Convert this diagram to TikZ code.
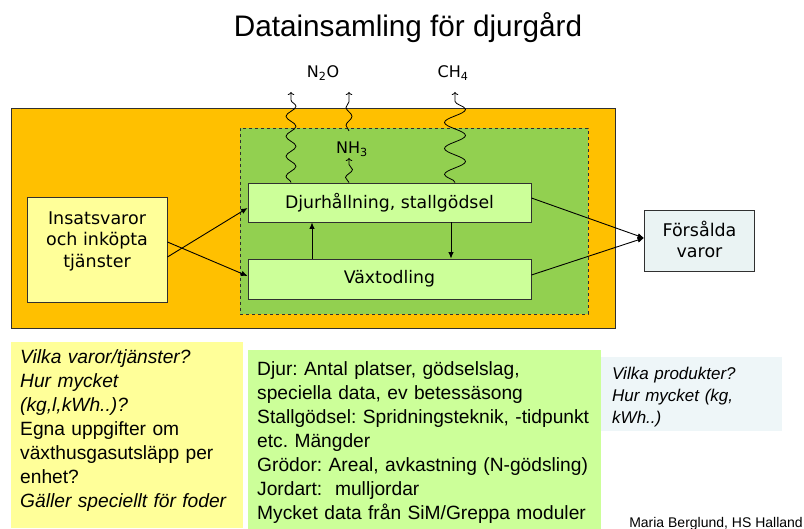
\documentclass[tikz,border=0pt]{standalone}
\usepackage{fontspec}
\setmainfont{Liberation Sans}
\newfontfamily\dvsans{DejaVu Sans}
\usetikzlibrary{arrows.meta,decorations.pathmorphing}
\frenchspacing

\definecolor{farmorange}{HTML}{FFC000}
\definecolor{farmgreen}{HTML}{92D050}
\definecolor{palegreen}{HTML}{CCFF99}
\definecolor{paleyellow}{HTML}{FFFF99}
\definecolor{paleblue}{HTML}{EAF3F3}
\definecolor{noteblue}{HTML}{EEF6F8}
\definecolor{edgegray}{HTML}{303030}

\tikzset{
  areabox/.style={draw=edgegray, line width=0.9pt, inner sep=0pt},
  procbox/.style={draw=edgegray, line width=0.9pt, fill=palegreen, inner sep=0pt,
    font=\dvsans\fontsize{17.3}{21}\selectfont},
  boxlabel/.style={inner sep=0pt, align=center, font=\dvsans\fontsize{17.5}{21.7}\selectfont},
  flow/.style={line width=0.9pt, -{Latex[length=6.5pt,width=5.5pt]}},
  gas/.style={line width=0.8pt, -{To[length=3pt,width=6.5pt]}, decorate},
  gaslabel/.style={font=\dvsans\fontsize{16}{19}\selectfont, inner sep=0pt},
  notebox/.style={inner sep=0pt, anchor=north west},
  notetext/.style={inner sep=0pt, anchor=base west, align=left,
    font=\fontsize{19.2}{24}\selectfont}
}

\begin{document}
\begin{tikzpicture}[x=1pt,y=-1pt]
\useasboundingbox (0,0) rectangle (804,529);

% title
\node[font=\fontsize{29.7}{34}\selectfont, inner sep=0pt, anchor=base] (title) at (408,37)
  {Datainsamling för djurgård};

% farm boundary and the animal/crop area
\node[areabox, fill=farmorange, minimum width=604pt, minimum height=220pt] (farm) at (313,218) {};
\node[areabox, fill=farmgreen, dashed, line width=0.8pt, minimum width=348pt, minimum height=186pt] (core) at (414,221) {};

% process boxes
\node[procbox, minimum width=283pt, minimum height=39pt] (djur) at (389.5,202.5) {Djurhållning, stallgödsel};
\node[procbox, minimum width=283pt, minimum height=40pt] (vaxt) at (389.5,279) {Växtodling};
\node[procbox, fill=paleyellow, minimum width=140pt, minimum height=105pt] (insats) at (97,249.5) {};
\node[boxlabel, anchor=base] (insatslabel) at (97,267.5)
  {Insatsvaror\\och inköpta\\tjänster};
\node[procbox, fill=paleblue, minimum width=110pt, minimum height=61pt] (sold) at (699.5,240.5) {};
\node[boxlabel, anchor=base] (soldlabel) at (699.5,258)
  {Försålda\\varor};

% material flows
\draw[flow] ([yshift=-7.5pt]insats.east) -- ([yshift=-5.5pt]djur.west);
\draw[flow] ([yshift=7.5pt]insats.east) -- ([yshift=3pt]vaxt.west);
\draw[flow] ([xshift=-77.5pt]vaxt.north) -- ([xshift=-77.5pt]djur.south);
\draw[flow] ([xshift=61.5pt]djur.south) -- ([xshift=61.5pt]vaxt.north);
\draw[flow] ([yshift=4.5pt]djur.east) -- ([yshift=2.5pt]sold.west);
\draw[flow] ([yshift=4pt]vaxt.east) -- ([yshift=2.5pt]sold.west);

% gas emissions
\coordinate (n2otip) at (291,92);
\coordinate (ch4tip) at (455,92);
\coordinate (nh3low) at (349,158);
\coordinate (nh3base) at (349,131);
\coordinate (nh3tip) at (349,92);
\draw[gas, decoration={snake, amplitude=5pt, segment length=20pt, post length=4pt}]
  ([xshift=-98.5pt]djur.north) -- (n2otip);
\draw[gas, decoration={snake, amplitude=10.5pt, segment length=26pt, post length=4pt}]
  ([xshift=65.5pt]djur.north) -- (ch4tip);
\draw[gas, decoration={snake, amplitude=3.5pt, segment length=16pt, post length=4pt}]
  ([xshift=-40.5pt]djur.north) -- (nh3low);
\draw[gas, decoration={snake, amplitude=3pt, segment length=18pt, post length=4pt}]
  (nh3base) -- (nh3tip);
\node[gaslabel] (n2o) at (323,73) {N\textsubscript{2}O};
\node[gaslabel] (ch4) at (453,73) {CH\textsubscript{4}};
\node[gaslabel] (nh3) at (352,149) {NH\textsubscript{3}};

% data notes
\node[notebox, fill=paleyellow, minimum width=232pt, minimum height=186pt] (inputnote) at (11,342) {};
\node[notebox, fill=palegreen, minimum width=353pt, minimum height=179pt] (farmnote) at (248,350) {};
\node[notebox, fill=noteblue, minimum width=181pt, minimum height=74pt] (salesnote) at (601,357) {};

\node[notetext, text width=228pt] (inputtext) at (20,364)
  {{\itshape Vilka varor/tjänster?}\\{\itshape Hur mycket}\\{\itshape (kg,l,kWh..)?}\\Egna uppgifter om\\växthusgasutsläpp per\\enhet?\\{\itshape Gäller speciellt för foder}};
\node[notetext, text width=350pt] (farmtext) at (257,376)
  {Djur: Antal platser, gödselslag,\\speciella data, ev betessäsong\\Stallgödsel: Spridningsteknik, -tidpunkt\\etc. Mängder\\Grödor: Areal, avkastning (N-gödsling)\\Jordart:\ \ mulljordar\\Mycket data från SiM/Greppa moduler};
\node[notetext, text width=180pt, font=\itshape\fontsize{17}{21.7}\selectfont] (salestext) at (612,380)
  {Vilka produkter?\\Hur mycket (kg,\\kWh..)};

\node[inner sep=0pt, anchor=base east, font=\fontsize{14}{16}\selectfont] (credit) at (803,527)
  {Maria Berglund, HS Halland};
\end{tikzpicture}
\end{document}
